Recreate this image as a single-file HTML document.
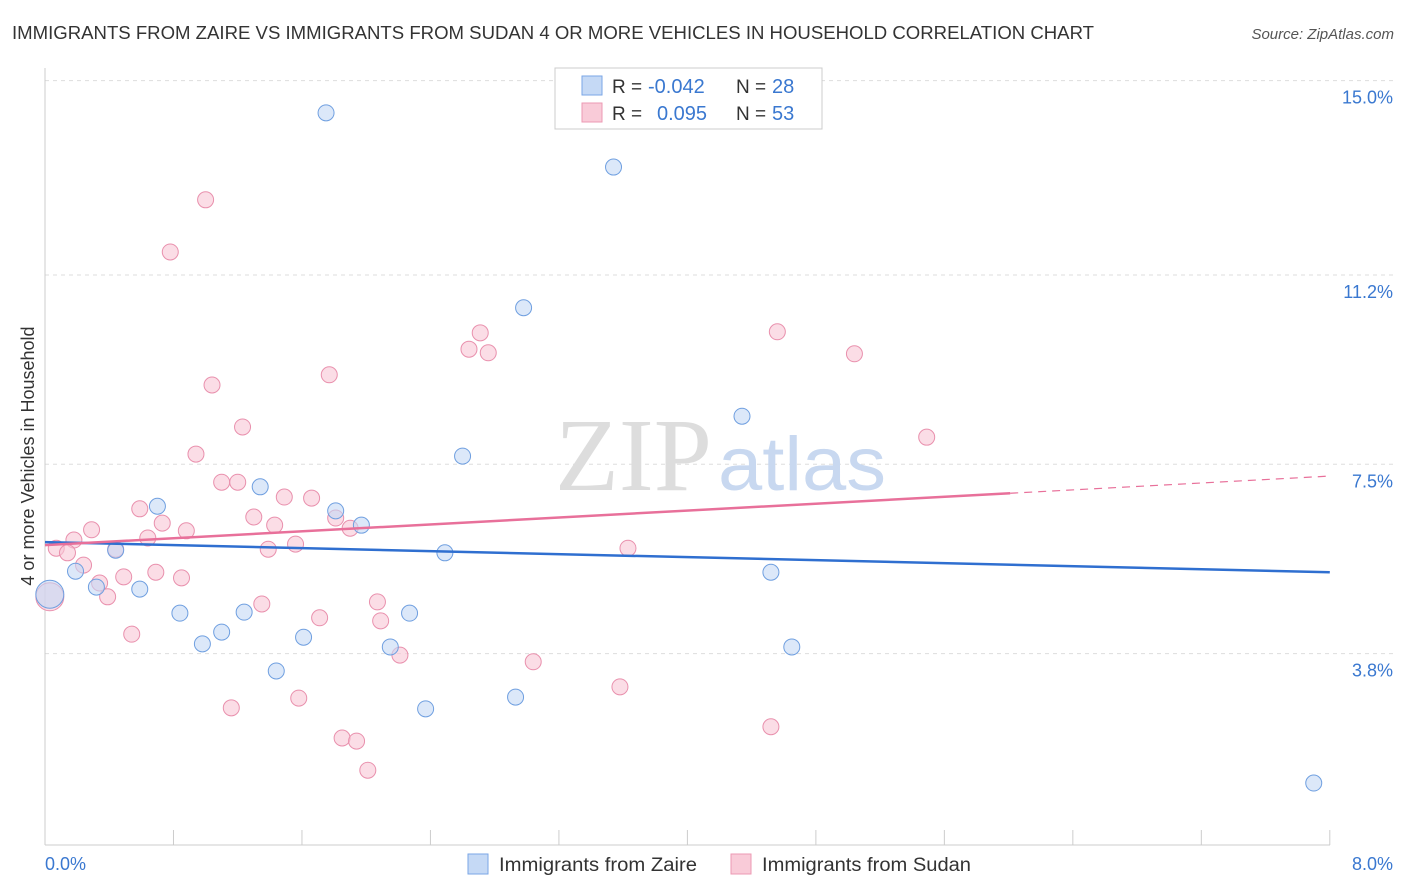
<!DOCTYPE html>
<html><head><meta charset="utf-8"><style>
body{margin:0;background:#fff;font-family:"Liberation Sans",sans-serif;}
</style></head><body>
<svg width="1406" height="892" style="display:block">
<text x="12" y="39" font-size="18" fill="#333" textLength="1082" lengthAdjust="spacingAndGlyphs">IMMIGRANTS FROM ZAIRE VS IMMIGRANTS FROM SUDAN 4 OR MORE VEHICLES IN HOUSEHOLD CORRELATION CHART</text>
<text x="1394" y="39" font-size="15" fill="#555" font-style="italic" text-anchor="end">Source: ZipAtlas.com</text>
<g id="grid"></g>
<text x="555" y="490" font-size="104" fill="#ddd" font-family="Liberation Serif" textLength="157" lengthAdjust="spacingAndGlyphs">ZIP</text>
<text x="718" y="490" font-size="76" fill="#c8d8f0" textLength="168" lengthAdjust="spacingAndGlyphs">atlas</text>
<line x1="45" y1="68" x2="45" y2="845" stroke="#ccc"/>
<line x1="45" y1="845" x2="1330" y2="845" stroke="#ccc"/>
<text x="34" y="456" font-size="18" fill="#333" text-anchor="middle" transform="rotate(-90 34 456)">4 or more Vehicles in Household</text>
<text x="45" y="870" font-size="18" fill="#3a78d0">0.0%</text>
<text x="1393" y="870" font-size="18" fill="#3a78d0" text-anchor="end">8.0%</text>
<g id="marks"></g>
<g>
<rect x="555" y="68" width="267" height="61" fill="#fff" stroke="#ccc"/>
<rect x="582" y="76" width="20" height="19" fill="#c5d9f5" stroke="#7aa6e6"/>
<rect x="582" y="103" width="20" height="19" fill="#f9cbd8" stroke="#ec9ab3"/>
<text x="612" y="93" font-size="19" fill="#333">R =</text>
<text x="648" y="93" font-size="20" fill="#3a78d0">-0.042</text>
<text x="736" y="93" font-size="19" fill="#333">N =</text>
<text x="772" y="93" font-size="20" fill="#3a78d0">28</text>
<text x="612" y="120" font-size="19" fill="#333">R =</text>
<text x="657" y="120" font-size="20" fill="#3a78d0">0.095</text>
<text x="736" y="120" font-size="19" fill="#333">N =</text>
<text x="772" y="120" font-size="20" fill="#3a78d0">53</text>
</g>
<g>
<rect x="468" y="854" width="20" height="20" fill="#c5d9f5" stroke="#7aa6e6"/>
<text x="499" y="871" font-size="19" fill="#333" textLength="198" lengthAdjust="spacingAndGlyphs">Immigrants from Zaire</text>
<rect x="731" y="854" width="20" height="20" fill="#f9cbd8" stroke="#ec9ab3"/>
<text x="762" y="871" font-size="19" fill="#333" textLength="209" lengthAdjust="spacingAndGlyphs">Immigrants from Sudan</text>
</g>
</svg>
<script>
const yTicks=[3.8,7.5,11.2,15.0];
const yTickLabels=["3.8%","7.5%","11.2%","15.0%"];
const xTicks=[0,0.8,1.6,2.4,3.2,4.0,4.8,5.6,6.4,7.2,8.0];
const zaireX=[1.75,3.54,2.98,4.34,2.60,1.34,0.70,1.81,1.97,0.44,2.49,0.19,4.52,0.32,0.59,0.03,0.84,1.24,2.27,1.10,1.61,0.98,2.15,4.65,1.44,2.93,2.37,7.90];
const zaireY=[14.37,13.31,10.56,8.44,7.66,7.06,6.68,6.59,6.31,5.82,5.77,5.41,5.39,5.10,5.06,4.96,4.59,4.61,4.59,4.22,4.12,3.99,3.93,3.93,3.46,2.95,2.72,1.27];
const sudanX=[1.00,0.78,2.71,4.56,2.64,2.76,5.04,1.77,1.04,1.23,5.49,0.94,1.10,1.20,1.49,1.66,0.59,1.30,1.81,0.73,1.43,1.90,0.29,0.88,0.64,0.18,1.56,0.07,0.44,1.39,3.63,0.14,0.24,0.69,0.49,0.85,0.34,0.39,1.35,2.07,1.71,2.09,2.21,0.54,3.04,3.58,1.58,1.16,4.52,1.85,1.94,2.01,0.03];
const sudanY=[12.67,11.65,10.07,10.09,9.75,9.68,9.66,9.25,9.05,8.23,8.03,7.70,7.15,7.15,6.86,6.84,6.63,6.47,6.45,6.35,6.31,6.25,6.22,6.20,6.06,6.02,5.94,5.86,5.84,5.84,5.86,5.77,5.53,5.39,5.30,5.28,5.18,4.91,4.77,4.81,4.50,4.44,3.77,4.18,3.64,3.15,2.93,2.74,2.37,2.15,2.09,1.52,4.91];
const zaireTrend=[5.98,5.39];
const sudanTrend=[5.92,7.27];
const sudanSolidEnd=6.01;

const X=v=>45+v*160.6, Y=v=>848-v*51.16;
const NS="http://www.w3.org/2000/svg";
function mk(t,a,p){const e=document.createElementNS(NS,t);for(const k in a)e.setAttribute(k,a[k]);p.appendChild(e);return e;}
const grid=document.getElementById('grid'), marks=document.getElementById('marks');
yTicks.forEach((v,i)=>{
 const l=mk('line',{x1:45,x2:1393,y1:Y(v),y2:Y(v),stroke:'#ddd','stroke-dasharray':'4,4'},grid);
 
 
 const t=mk('text',{x:1393,y:Y(v)+23,'font-size':18,fill:'#3a78d0','text-anchor':'end'},grid);
 t.textContent=yTickLabels[i];
 
 
});
xTicks.forEach(v=>{
 const l=mk('line',{x1:X(v),x2:X(v),y1:830,y2:845,stroke:'#ccc'},grid);
 
 
});
function pts(xs,ys,fill,stroke,name){
 xs.forEach((x,i)=>{
  const big=(x<0.05);
  const c=mk('circle',{cx:X(x),cy:Y(ys[i]),r:big?14:8,fill:fill,'fill-opacity':0.6,stroke:stroke,'stroke-width':1},marks);
  
  
 });
}
pts(sudanX,sudanY,'#f9c6d6','#e990ad','sudan-point');
pts(zaireX,zaireY,'#c5d9f5','#6f9fe0','zaire-point');
const zl=mk('line',{x1:X(0),y1:Y(zaireTrend[0]),x2:X(8),y2:Y(zaireTrend[1]),stroke:'#2f6fd0','stroke-width':2.5},marks);


const ym=sudanTrend[0]+(sudanTrend[1]-sudanTrend[0])*sudanSolidEnd/8;
const sl=mk('line',{x1:X(0),y1:Y(sudanTrend[0]),x2:X(sudanSolidEnd),y2:Y(ym),stroke:'#e8709a','stroke-width':2.5},marks);


const sd=mk('line',{x1:X(sudanSolidEnd),y1:Y(ym),x2:X(8),y2:Y(sudanTrend[1]),stroke:'#e8709a','stroke-width':1.2,'stroke-dasharray':'8,6'},marks);


</script>
</body></html>
